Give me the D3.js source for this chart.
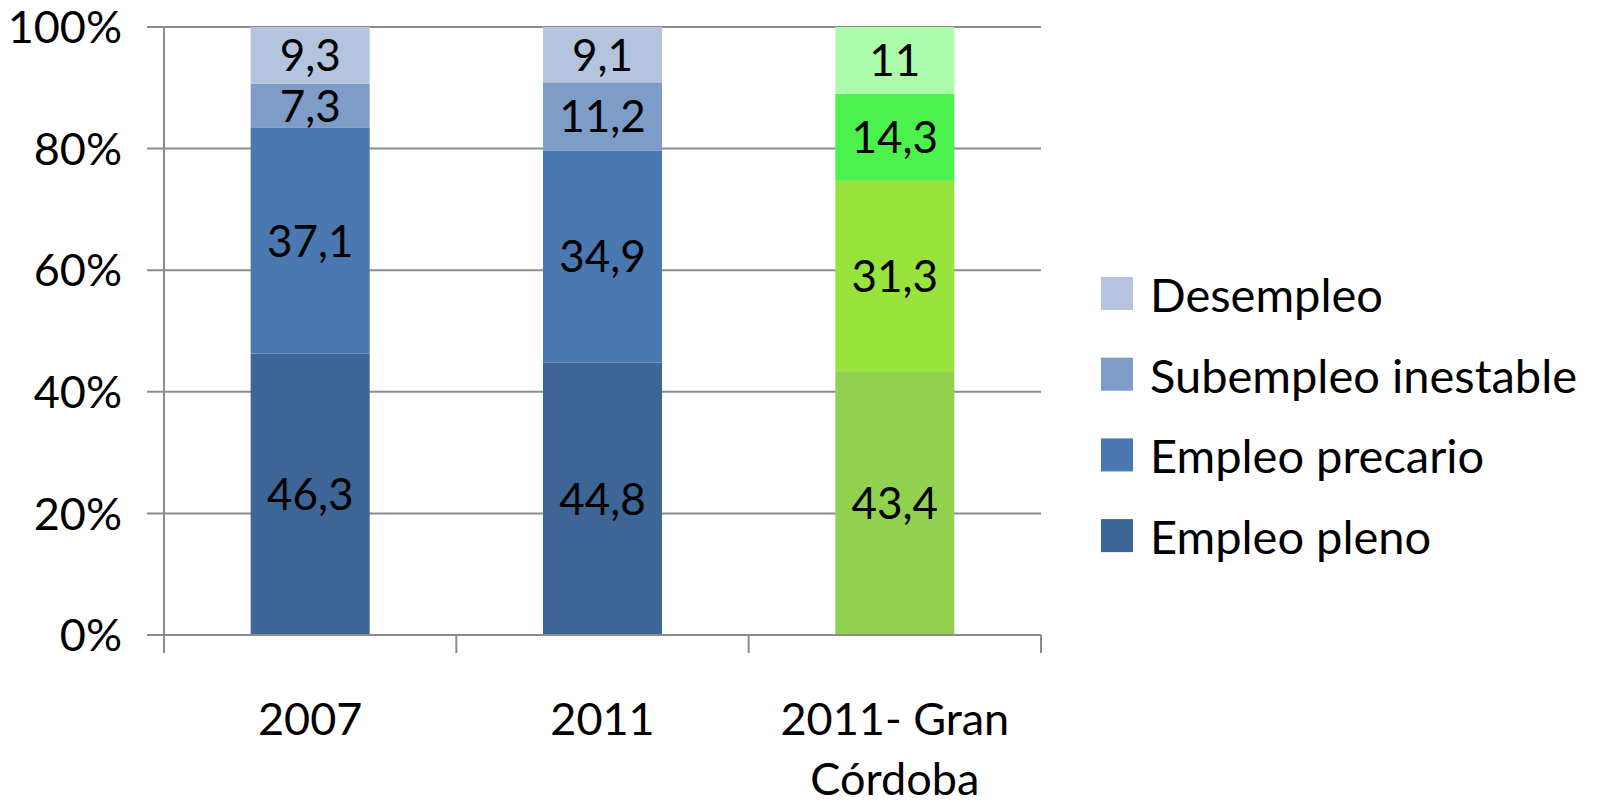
<!DOCTYPE html>
<html>
<head>
<meta charset="utf-8">
<title>Empleo 2007 - 2011</title>
<script src="https://d3js.org/d3.v7.min.js"></script>
<style>
	html, body { margin: 0; background: #fff; overflow: hidden; }
	svg text { font-family: Lato, "Noto Sans", sans-serif; fill: #000; }
</style>
</head>
<body>
<svg id="chart" width="1604" height="808"></svg>
<script>
// data
let categories = ["2007", "2011", "2011- Gran|Córdoba"];
let seriesNames = ["Empleo pleno", "Empleo precario", "Subempleo inestable", "Desempleo"];
let pleno     = [46.3, 44.8, 43.4];
let precario  = [37.1, 34.9, 31.3];
let subempleo = [7.3, 11.2, 14.3];
let desempleo = [9.3, 9.1, 11];
let yTicks = [0, 20, 40, 60, 80, 100];

let blues  = ["#3d6595", "#4a78b0", "#7e9cc8", "#b4c4df"];
let greens = ["#92d050", "#98e33c", "#4cf24c", "#aafcaa"];

let rows = categories.map((c, i) => ({
	cat: c,
	"Empleo pleno": pleno[i],
	"Empleo precario": precario[i],
	"Subempleo inestable": subempleo[i],
	"Desempleo": desempleo[i]
}));

let svg = d3.select("#chart");
let margin = { left: 164, right: 1041, top: 27, bottom: 635 };

let x = d3.scaleBand().domain(categories).range([margin.left, margin.right]).paddingInner(0).paddingOuter(0);
let y = d3.scaleLinear().domain([0, 100]).range([margin.bottom, margin.top]);
let barW = 119;

// gridlines
svg.append("g")
	.selectAll("line")
	.data(yTicks.slice(1))
	.join("line")
		.attr("x1", margin.left - 17)
		.attr("x2", margin.right)
		.attr("y1", d => y(d))
		.attr("y2", d => y(d))
		.attr("stroke", "#8c8c8c")
		.attr("stroke-width", 2);

let stack = d3.stack().keys(seriesNames)(rows);

let bars = svg.append("g");
stack.forEach((layer, k) => {
	bars.selectAll(null)
		.data(layer)
		.join("rect")
			.attr("x", d => x(d.data.cat) + x.bandwidth() / 2 - barW / 2)
			.attr("width", barW)
			.attr("y", d => y(d[1]))
			.attr("height", d => y(d[0]) - y(d[1]))
			.attr("fill", (d, i) => i == 2 ? greens[k] : blues[k]);
});

// value labels
stack.forEach((layer) => {
	svg.append("g")
		.selectAll("text")
		.data(layer)
		.join("text")
			.attr("x", d => x(d.data.cat) + x.bandwidth() / 2)
			.attr("y", d => (y(d[0]) + y(d[1])) / 2)
			.attr("dy", "0.36em")
			.attr("text-anchor", "middle")
			.attr("font-size", 44)
			.text(d => String(+(d[1] - d[0]).toFixed(1)).replace(".", ","));
});

// axes
let axisColor = "#8c8c8c";
svg.append("line")
	.attr("x1", margin.left).attr("x2", margin.left)
	.attr("y1", margin.top).attr("y2", margin.bottom + 18)
	.attr("stroke", axisColor).attr("stroke-width", 2);
svg.append("line")
	.attr("x1", margin.left - 17).attr("x2", margin.right)
	.attr("y1", margin.bottom).attr("y2", margin.bottom)
	.attr("stroke", axisColor).attr("stroke-width", 2);

let xTickPos = categories.map(c => x(c) + x.bandwidth());
svg.append("g")
	.selectAll("line")
	.data(xTickPos)
	.join("line")
		.attr("x1", d => d).attr("x2", d => d)
		.attr("y1", margin.bottom).attr("y2", margin.bottom + 18)
		.attr("stroke", axisColor).attr("stroke-width", 2);

// y tick labels
svg.append("g")
	.selectAll("text")
	.data(yTicks)
	.join("text")
		.attr("x", 122)
		.attr("y", d => y(d))
		.attr("dy", "0.36em")
		.attr("text-anchor", "end")
		.attr("font-size", 45)
		.text(d => d + "%");

// x category labels
let catLabels = svg.append("g")
	.selectAll("text")
	.data(categories)
	.join("text")
		.attr("x", d => x(d) + x.bandwidth() / 2)
		.attr("y", 735)
		.attr("text-anchor", "middle")
		.attr("font-size", 45);
catLabels.each(function (d) {
	let parts = d.split("|");
	let t = d3.select(this);
	parts.forEach((p, i) => {
		t.append("tspan")
			.attr("x", x(d) + x.bandwidth() / 2)
			.attr("dy", i == 0 ? 0 : 60)
			.text(p);
	});
});

// legend
let legendKeys = seriesNames.slice().reverse();
let legend = svg.append("g")
	.selectAll("g")
	.data(legendKeys)
	.join("g")
		.attr("transform", (d, i) => `translate(1101, ${277 + i * 80.7})`);
legend.append("rect")
	.attr("width", 32).attr("height", 33)
	.attr("fill", d => blues[seriesNames.indexOf(d)]);
legend.append("text")
	.attr("x", 49)
	.attr("y", 18)
	.attr("dy", "0.36em")
	.attr("font-size", 47)
	.text(d => d);
</script>
</body>
</html>
